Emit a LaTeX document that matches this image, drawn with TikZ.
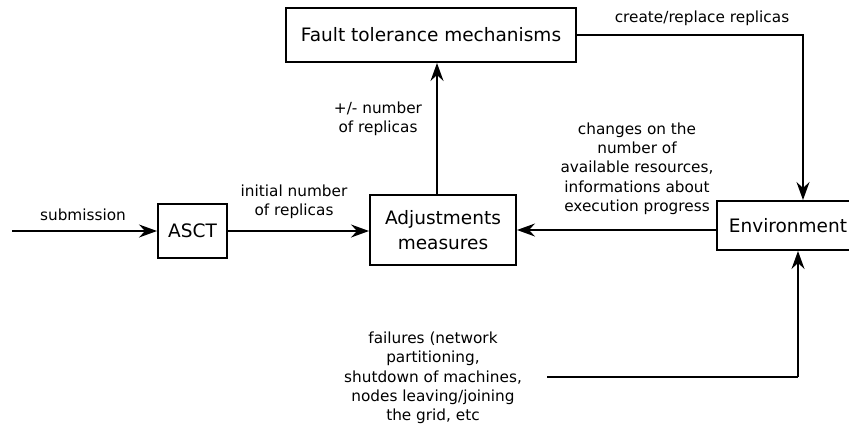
\documentclass[tikz,border=0pt]{standalone}
\usepackage{fontspec}
\setmainfont{DejaVu Sans}
\usetikzlibrary{arrows.meta}
\begin{document}
\begin{tikzpicture}[x=1pt,y=-1pt,
  boxtxt/.style={font=\fontsize{18.5}{25}\selectfont},
  lbl/.style={font=\fontsize{15.3}{19.3}\selectfont, align=center, inner sep=0pt},
  block/.style={draw, line width=2pt, boxtxt, align=center, inner sep=0pt},
  link/.style={line width=1.3pt, -{Stealth[length=18pt,width=13pt,inset=6pt]}},
  plain/.style={line width=1.3pt}]
  \useasboundingbox (0,0) rectangle (849,424);

  % blocks
  \node[block, minimum width=69pt, minimum height=54pt] (asct) at (192.5,231) {ASCT};
  \node[block, minimum width=146pt, minimum height=70pt] (adj) at (443,230) {Adjustments\\measures};
  \node[block, minimum width=290pt, minimum height=54pt] (fault) at (431,35) {Fault tolerance mechanisms};
  \node[block, minimum width=142pt, minimum height=49pt] (env) at (788,225.5) {Environment};

  % helper points
  \coordinate (src) at (12,231);
  \coordinate (upx) at (437,0);
  \coordinate (topx) at (803,0);
  \coordinate (fail) at (547,377);
  \coordinate (botx) at (798,377);

  % connectors
  \draw[link] (src) -- (asct.west);
  \draw[link] (asct.east) -- (adj.west |- asct.east);
  \draw[link] (adj.north -| upx) -- (fault.south -| upx);
  \draw[link] (fault.east) -| (topx |- env.north);
  \draw[link] (env.west |- adj.east) -- (adj.east);
  \draw[plain] (fail) -- (botx);
  \draw[link] (botx) -- (botx |- env.south);

  % labels
  \node[lbl] (lsub) at (83,215) {submission};
  \node[lbl] (linit) at (294,202) {initial number\\of replicas};
  \node[lbl] (lpm) at (378,119) {+/- number\\of replicas};
  \node[lbl] (lcre) at (702,18) {create/replace replicas};
  \node[lbl] (lchg) at (637,168.5) {changes on the\\number of\\available resources,\\informations about\\execution progress};
  \node[lbl] (lfail) at (433,378) {failures (network\\partitioning,\\shutdown of machines,\\nodes leaving/joining\\the grid, etc};
\end{tikzpicture}
\end{document}
